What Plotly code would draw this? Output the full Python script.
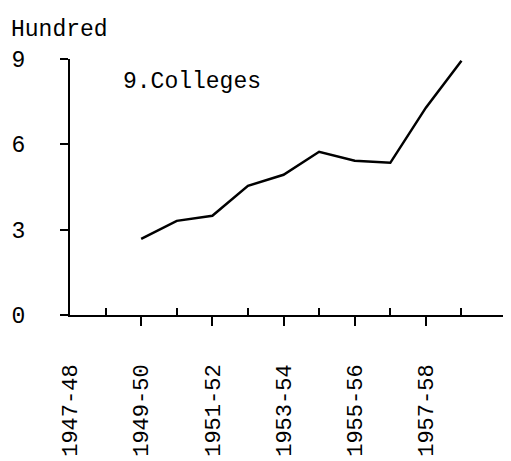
import plotly.graph_objects as go

# Data (hundreds of colleges)
year_index = [2, 3, 4, 5, 6, 7, 8, 9, 10, 11]
colleges = [2.68, 3.31, 3.49, 4.54, 4.93, 5.74, 5.42, 5.35, 7.29, 8.94]

label_pos = [0, 2, 4, 6, 8, 10]
label_text = ["1947-48", "1949-50", "1951-52", "1953-54", "1955-56", "1957-58"]
minor_up = [1, 3, 5, 7, 9, 11]
minor_down = [2, 4, 6, 8, 10, 12.56]
y_ticks = [0, 3, 6, 9]

FONT = "Liberation Mono, Courier New, monospace"

fig = go.Figure()
fig.add_trace(go.Scatter(x=year_index, y=colleges, mode="lines",
                         line=dict(color="black", width=2.5), showlegend=False))
# invisible traces to activate overlay axes
fig.add_trace(go.Scatter(x=[0], y=[0], xaxis="x2", mode="markers",
                         marker=dict(opacity=0), showlegend=False, hoverinfo="skip"))
fig.add_trace(go.Scatter(x=[0], y=[0], xaxis="x3", mode="markers",
                         marker=dict(opacity=0), showlegend=False, hoverinfo="skip"))

xr = [0, 12.56]
fig.update_layout(
    width=511, height=461,
    margin=dict(l=62, r=2, t=51, b=154),
    paper_bgcolor="white", plot_bgcolor="white",
    font=dict(family=FONT, color="black", size=22),
    xaxis=dict(range=xr, showgrid=False, zeroline=False, showline=True,
               linecolor="black", linewidth=2, ticks="outside", ticklen=9,
               tickwidth=2, tickcolor="black", tickvals=minor_down,
               showticklabels=False),
    xaxis2=dict(range=xr, overlaying="x", showgrid=False, zeroline=False,
                showline=False, ticks="inside", ticklen=7, tickwidth=2,
                tickcolor="black", tickvals=minor_up, showticklabels=False),
    xaxis3=dict(range=xr, overlaying="x", showgrid=False, zeroline=False,
                showline=False, ticks="", tickvals=label_pos, ticktext=label_text,
                tickangle=-90, ticklabelstandoff=44,
                tickfont=dict(family=FONT, size=22, color="black")),
    yaxis=dict(range=[0, 9], showgrid=False, zeroline=False, showline=True,
               linecolor="black", linewidth=2, ticks="outside", ticklen=8,
               tickwidth=2, tickcolor="black", tickvals=y_ticks,
               ticktext=[str(v) for v in y_ticks], ticklabelstandoff=30,
               tickfont=dict(family=FONT, size=23, color="black")),
    annotations=[
        dict(text="Hundred", xref="paper", yref="paper", x=0, y=1,
             xshift=-61, yshift=29, xanchor="left", yanchor="middle",
             showarrow=False, font=dict(family=FONT, size=23, color="black")),
        dict(text="9.Colleges", xref="x", yref="y", x=1.43, y=8.18,
             xanchor="left", yanchor="middle", showarrow=False,
             font=dict(family=FONT, size=23, color="black")),
    ],
)

fig.write_html("out.html")
